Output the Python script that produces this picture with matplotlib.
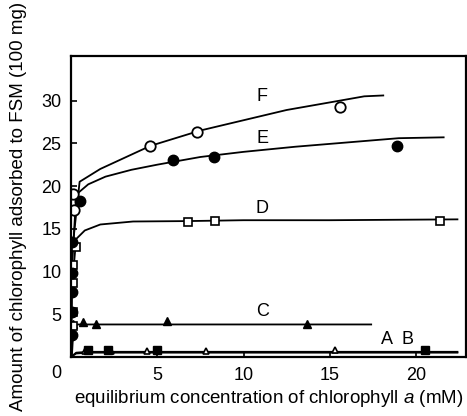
import matplotlib
matplotlib.use('Agg')
import matplotlib.pyplot as plt
import matplotlib.transforms as mtransforms

plt.rcParams['font.family'] = ['Liberation Sans', 'DejaVu Sans']
plt.rcParams['mathtext.fontset'] = 'custom'
plt.rcParams['mathtext.it'] = 'Liberation Sans:italic'
plt.rcParams['mathtext.rm'] = 'Liberation Sans'

# fitted curves
A_line_x = [0.0, 0.3, 1.0, 22.4]
A_line_y = [0.0, 0.4, 0.5, 0.5]
B_line_x = [0.0, 0.3, 1.0, 22.4]
B_line_y = [0.0, 0.5, 0.6, 0.6]
C_line_x = [0.05, 0.15, 0.4, 17.4]
C_line_y = [0.0, 3.6, 3.8, 3.8]
D_line_x = [0.0, 0.05, 0.3, 0.8, 1.7, 3.6, 6.8, 10, 15, 22.4]
D_line_y = [0.0, 8.0, 13.8, 14.8, 15.5, 15.85, 15.9, 16.0, 16.0, 16.1]
E_line_x = [0.0, 0.05, 0.3, 1, 2, 3.5, 5, 7.5, 10, 13, 16, 19, 21.6]
E_line_y = [0.0, 10.0, 19.0, 20.2, 21.1, 21.9, 22.5, 23.4, 24.0, 24.6, 25.1, 25.6, 25.7]
F_line_x = [0.0, 0.05, 0.5, 1.7, 4.6, 7.5, 10, 12.5, 15.6, 17, 18.1]
F_line_y = [0.0, 12.0, 20.5, 22.0, 24.7, 26.5, 27.7, 28.9, 30.0, 30.5, 30.6]

# measured points
A_x = [0.8, 2.3, 4.4, 7.8, 15.3]
A_y = [0.75, 0.75, 0.75, 0.75, 0.85]
B_x = [1.0, 2.15, 5.0, 20.5]
B_y = [0.85, 0.85, 0.85, 0.85]
C_x = [0.1, 0.7, 1.45, 5.55, 13.7]
C_y = [3.9, 4.1, 3.9, 4.2, 3.9]
D_x = [0.1, 0.1, 0.1, 0.1, 0.3, 6.8, 8.35, 21.4]
D_y = [3.6, 5.2, 8.6, 10.8, 12.9, 15.8, 15.9, 15.9]
E_x = [0.05, 0.05, 0.05, 0.05, 0.05, 0.5, 5.9, 8.3, 18.9]
E_y = [2.6, 5.3, 7.6, 9.8, 13.4, 18.3, 23.0, 23.4, 24.7]
F_x = [0.15, 0.1, 4.6, 7.3, 15.6]
F_y = [17.2, 19.1, 24.7, 26.3, 29.2]

labels = ['A', 'B', 'C', 'D', 'E', 'F']
label_x = [18.3, 19.5, 11.1, 11.1, 11.1, 11.1]
label_y = [2.0, 2.0, 5.3, 17.4, 25.6, 30.5]

fig = plt.figure(figsize=(4.67, 4.16), dpi=100)
ax = fig.add_axes([0.152, 0.142, 0.846, 0.723])

lw = 1.3
ax.plot(A_line_x, A_line_y, c='k', lw=lw)
ax.plot(B_line_x, B_line_y, c='k', lw=lw)
ax.plot(C_line_x, C_line_y, c='k', lw=lw)
ax.plot(D_line_x, D_line_y, c='k', lw=lw)
ax.plot(E_line_x, E_line_y, c='k', lw=lw)
ax.plot(F_line_x, F_line_y, c='k', lw=lw)

ax.plot(A_x, A_y, ls='none', marker='^', ms=5, mfc='white', mec='k', mew=1.2)
ax.plot(B_x, B_y, ls='none', marker='s', ms=6, mfc='k', mec='k')
ax.plot(C_x, C_y, ls='none', marker='^', ms=5.5, mfc='k', mec='k')
ax.plot(D_x, D_y, ls='none', marker='s', ms=5.5, mfc='white', mec='k', mew=1.2)
ax.plot(E_x, E_y, ls='none', marker='o', ms=7.5, mfc='k', mec='k')
ax.plot(F_x, F_y, ls='none', marker='o', ms=7.5, mfc='white', mec='k', mew=1.3)

for lab, lx, ly in zip(labels, label_x, label_y):
    ax.text(lx, ly, lab, ha='center', va='center', fontsize=13)

ax.set_xlim(0, 22.9)
ax.set_ylim(0, 35.2)
ax.set_xticks([5, 10, 15, 20])
ax.set_yticks([0, 5, 10, 15, 20, 25, 30])
ax.tick_params(direction='in', length=4, width=1.2, labelsize=13)
ax.tick_params(axis='x', pad=7)
ax.tick_params(axis='y', pad=7)
for s in ax.spines.values():
    s.set_linewidth(1.6)

# the "0" label sits lower, level with the x tick labels
zero = ax.get_yticklabels()[0]
zero.set_transform(zero.get_transform() + mtransforms.ScaledTranslation(0, -15 / 100, fig.dpi_scale_trans))

ax.set_xlabel('equilibrium concentration of chlorophyll $\\it{a}$ (mM)', fontsize=13.5, labelpad=3)
ax.set_ylabel('Amount of chlorophyll adsorbed to FSM (100 mg)', fontsize=13.5, labelpad=10)

fig.savefig('out.png', dpi=100)
